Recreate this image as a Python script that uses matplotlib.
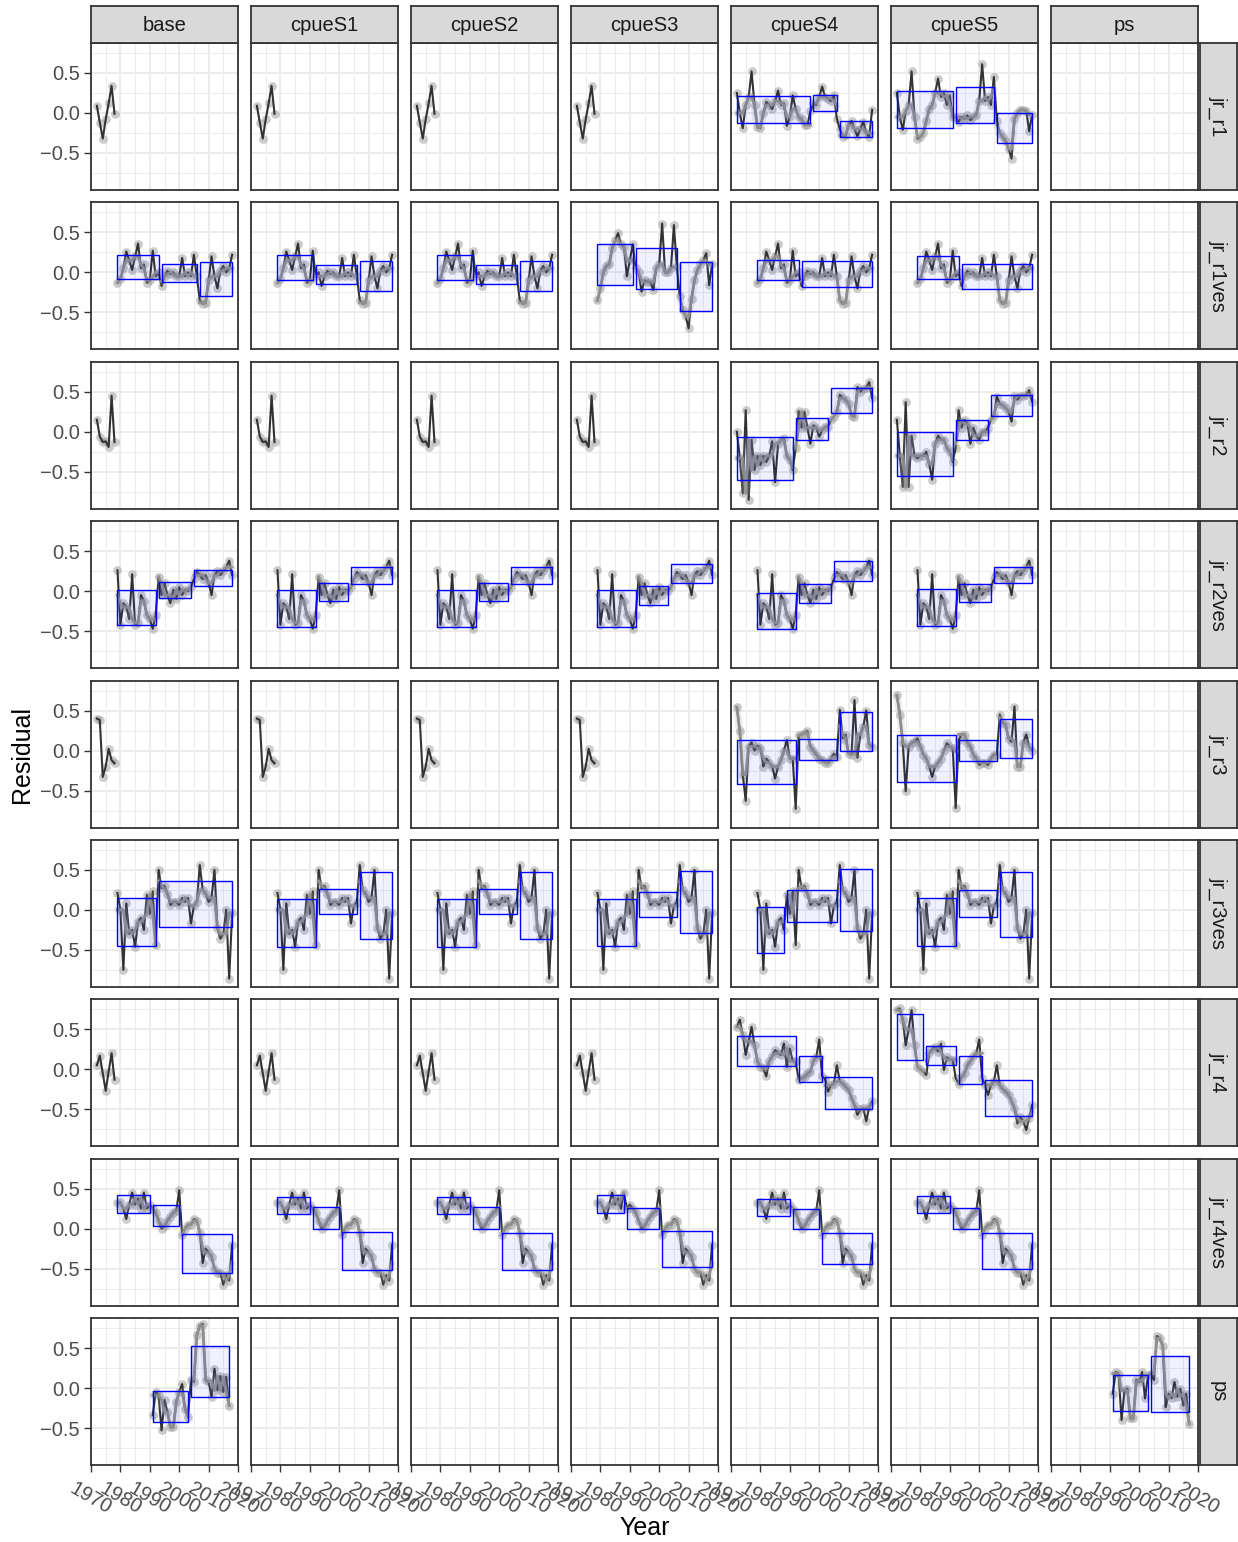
import numpy as np
import matplotlib
matplotlib.use("Agg")
import matplotlib.pyplot as plt
from matplotlib.patches import Rectangle
from matplotlib.ticker import FixedLocator, NullFormatter, FixedFormatter

plt.rcParams['font.family'] = ['Liberation Sans', 'DejaVu Sans']
plt.rcParams['axes.unicode_minus'] = True

# ---------------------------------------------------------------- facets
scenarios = ["base", "cpueS1", "cpueS2", "cpueS3", "cpueS4", "cpueS5", "ps"]
indices = ["jr_r1", "jr_r1ves", "jr_r2", "jr_r2ves", "jr_r3", "jr_r3ves",
           "jr_r4", "jr_r4ves", "ps"]

x_ticks = [1970, 1980, 1990, 2000, 2010, 2020]
x_minor = [1975, 1985, 1995, 2005, 2015]
y_ticks = [-0.5, 0.0, 0.5]
y_tick_labels = ["\u22120.5", "0.0", "0.5"]
y_minor = [-0.75, -0.25, 0.25, 0.75]

# ---------------------------------------------------------------- years
short_years = np.arange(1972, 1979)
long_years = np.arange(1972, 2019)
ves_years = np.arange(1979, 2019)
ps_years = np.arange(1991, 2018)

# ---------------------------------------------------------------- residuals
jr_r1_short = [0.09, -0.12, -0.32, -0.08, 0.12, 0.34, -0.01]
jr_r2_short = [0.15, -0.06, -0.13, -0.12, -0.19, 0.45, -0.13]
jr_r3_short = [0.40, 0.38, -0.33, -0.20, 0.02, -0.12, -0.16]
jr_r4_short = [0.05, 0.17, -0.05, -0.27, -0.03, 0.20, -0.13]

jr_r1_S4 = [0.25, 0.00, -0.19, 0.10, 0.20, 0.52, 0.10, -0.18, -0.19, 0.00,
            0.14, 0.10, 0.05, 0.15, 0.28, 0.10, 0.12, -0.16, -0.05, 0.22,
            0.05, -0.05, -0.08, -0.15, -0.15, 0.02, 0.12, 0.10, 0.20, 0.33,
            0.20, 0.18, 0.15, 0.22, -0.07, -0.20, -0.30, -0.28, -0.15, -0.10,
            -0.20, -0.29, -0.20, -0.11, -0.25, -0.30, 0.04]
jr_r1_S5 = [0.25, -0.05, -0.21, 0.02, 0.10, 0.52, -0.05, -0.32, -0.30, -0.25,
            -0.10, 0.05, 0.10, 0.25, 0.43, 0.20, 0.25, 0.10, 0.22, -0.05,
            -0.05, -0.11, -0.05, -0.07, -0.03, -0.09, -0.05, -0.02, 0.15, 0.61,
            0.15, 0.20, 0.10, 0.45, -0.10, -0.25, -0.30, -0.35, -0.45, -0.57,
            -0.07, 0.00, 0.04, 0.04, 0.03, -0.23, -0.02]
jr_r2_S4 = [0.00, -0.33, -0.77, 0.27, -0.85, -0.10, -0.48, -0.30, -0.42, -0.30,
            -0.38, -0.30, -0.12, -0.63, -0.15, -0.10, -0.08, -0.30, -0.35, -0.48,
            -0.20, 0.26, 0.05, 0.25, 0.05, -0.15, 0.08, 0.05, -0.06, 0.02,
            0.06, 0.06, 0.15, 0.19, 0.25, 0.46, 0.42, 0.40, 0.35, 0.20,
            0.19, 0.56, 0.50, 0.54, 0.55, 0.62, 0.42]
jr_r2_S5 = [0.15, -0.30, -0.69, 0.37, -0.69, -0.05, -0.30, -0.33, -0.30, -0.30,
            -0.25, -0.40, -0.60, -0.15, -0.05, -0.10, -0.10, -0.20, -0.25, -0.38,
            -0.20, 0.27, 0.05, 0.15, 0.10, -0.15, 0.05, -0.05, -0.10, 0.00,
            0.00, 0.05, 0.15, 0.20, 0.44, 0.35, 0.33, 0.30, 0.25, 0.125,
            0.45, 0.40, 0.45, 0.45, 0.46, 0.52, 0.375]
jr_r3_S4 = [0.54, 0.24, -0.30, -0.63, 0.05, 0.10, 0.00, 0.06, 0.03, -0.20,
            -0.10, -0.15, -0.20, -0.35, -0.20, -0.12, 0.00, 0.13, -0.10, -0.10,
            -0.73, 0.19, 0.20, 0.22, 0.24, 0.05, 0.00, -0.05, -0.10, -0.12,
            -0.15, -0.16, -0.10, -0.04, -0.08, 0.51, 0.15, 0.20, -0.04, -0.05,
            0.63, -0.09, 0.20, 0.30, 0.50, 0.07, 0.05]
jr_r3_S5 = [0.69, 0.45, 0.10, -0.51, 0.05, 0.10, 0.11, 0.15, 0.05, -0.05,
            -0.10, -0.20, -0.33, -0.20, -0.15, -0.10, 0.00, 0.09, 0.05, 0.03,
            -0.72, 0.13, 0.20, 0.20, 0.10, 0.05, -0.05, -0.10, -0.18, -0.15,
            -0.15, -0.18, -0.10, -0.05, -0.05, 0.45, 0.35, 0.32, 0.15, 0.11,
            0.55, -0.20, -0.20, 0.10, 0.20, 0.05, 0.00]
jr_r4_S4 = [0.53, 0.62, 0.43, 0.18, 0.35, 0.53, 0.30, 0.10, 0.03, 0.01,
            -0.09, 0.10, 0.16, 0.24, 0.20, 0.18, 0.32, 0.03, 0.26, 0.10,
            0.10, -0.13, -0.11, -0.10, -0.05, -0.03, 0.10, 0.15, 0.37, -0.09,
            -0.12, -0.28, -0.20, -0.18, 0.05, -0.15, -0.18, -0.22, -0.26, -0.36,
            -0.45, -0.57, -0.50, -0.49, -0.65, -0.47, -0.40]
jr_r4_S5 = [0.74, 0.76, 0.62, 0.30, 0.50, 0.74, 0.30, 0.03, 0.00, -0.03,
            -0.07, 0.20, 0.25, 0.28, 0.22, 0.32, -0.01, 0.15, 0.12, 0.12,
            -0.11, -0.18, -0.10, -0.05, 0.05, 0.10, 0.16, 0.20, 0.37, -0.11,
            -0.20, -0.32, -0.20, -0.15, 0.05, -0.20, -0.25, -0.28, -0.32, -0.40,
            -0.49, -0.68, -0.60, -0.65, -0.76, -0.61, -0.45]

jr_r1ves_main = [-0.13, -0.08, 0.05, 0.26, 0.15, 0.03, 0.20, 0.36, 0.05, 0.10,
                 -0.13, -0.10, 0.27, -0.05, 0.00, -0.17, -0.05, 0.02, -0.02, 0.00,
                 -0.05, -0.05, 0.18, -0.05, 0.00, -0.05, 0.22, -0.05, -0.35, -0.39,
                 -0.38, -0.10, 0.20, -0.05, -0.20, 0.02, 0.08, 0.00, 0.05, 0.22]
jr_r1ves_S3 = [-0.35, -0.20, 0.00, 0.08, 0.10, 0.30, 0.40, 0.49, 0.35, 0.32,
               -0.05, 0.15, 0.35, 0.05, 0.00, -0.24, -0.10, -0.12, -0.12, -0.22,
               0.05, 0.10, 0.61, 0.00, 0.00, 0.05, 0.59, 0.07, -0.30, -0.47,
               -0.55, -0.70, -0.33, -0.10, 0.03, 0.10, 0.15, 0.24, -0.16, 0.10]
jr_r2ves_main = [0.26, -0.42, -0.15, -0.20, -0.35, 0.21, -0.42, -0.40, -0.05, -0.12,
                 -0.30, -0.35, -0.47, -0.30, 0.18, -0.05, 0.10, -0.05, -0.15, 0.02,
                 -0.10, 0.05, -0.05, 0.02, 0.00, 0.05, 0.15, 0.24, 0.20, 0.15,
                 0.20, 0.10, -0.05, 0.20, 0.25, 0.20, 0.25, 0.30, 0.38, 0.20]
jr_r3ves_main = [0.21, 0.00, -0.75, 0.08, -0.30, -0.25, -0.46, -0.15, -0.10, -0.25,
                 0.19, -0.05, 0.23, -0.44, 0.50, 0.27, 0.30, 0.20, 0.06, 0.10,
                 0.10, 0.06, 0.15, 0.10, 0.15, -0.17, 0.05, 0.10, 0.56, 0.25,
                 0.20, 0.10, 0.15, 0.50, -0.23, -0.36, -0.30, 0.00, -0.86, -0.04]
jr_r4ves_main = [0.32, 0.33, 0.25, 0.12, 0.30, 0.45, 0.30, 0.38, 0.25, 0.45,
                 0.25, 0.30, 0.25, 0.20, 0.10, 0.00, 0.03, 0.10, 0.15, 0.20,
                 0.22, 0.48, -0.08, 0.00, 0.05, 0.05, 0.12, 0.10, -0.05, -0.43,
                 -0.25, -0.30, -0.35, -0.50, -0.55, -0.55, -0.70, -0.58, -0.65, -0.20]

ps_base = [-0.34, -0.05, -0.09, -0.53, -0.15, -0.30, -0.49, -0.49, -0.18, -0.05,
           0.05, -0.26, -0.36, 0.10, 0.08, 0.66, 0.78, 0.80, 0.10, 0.08,
           -0.11, 0.24, -0.03, 0.15, -0.05, 0.14, -0.22]
ps_ps = [-0.07, 0.20, 0.18, -0.40, -0.03, -0.01, -0.38, -0.38, 0.10, 0.075,
         0.20, -0.13, 0.16, 0.18, 0.10, 0.65, 0.62, 0.53, -0.24, -0.07,
         -0.13, 0.075, -0.11, -0.01, -0.22, -0.07, -0.45]

# ---------------------------------------------------------------- regime boxes
# (first year, last year, lower, upper)
jr_r1_boxes = {
    "cpueS4": [(1972, 1997, -0.13, 0.21), (1998, 2006, 0.02, 0.23), (2007, 2018, -0.30, -0.10)],
    "cpueS5": [(1972, 1991, -0.19, 0.28), (1992, 2005, -0.13, 0.33), (2006, 2018, -0.38, 0.00)],
}
jr_r1ves_boxes = {
    "base": [(1979, 1993, -0.08, 0.22), (1994, 2006, -0.125, 0.10), (2007, 2018, -0.29, 0.125)],
    "cpueS1": [(1979, 1991, -0.10, 0.22), (1992, 2006, -0.15, 0.09), (2007, 2018, -0.23, 0.14)],
    "cpueS2": [(1979, 1991, -0.10, 0.22), (1992, 2006, -0.15, 0.09), (2007, 2018, -0.23, 0.14)],
    "cpueS3": [(1979, 1991, -0.16, 0.35), (1992, 2006, -0.21, 0.30), (2007, 2018, -0.48, 0.125)],
    "cpueS4": [(1979, 1993, -0.10, 0.155), (1994, 2018, -0.18, 0.14)],
    "cpueS5": [(1979, 1993, -0.08, 0.21), (1994, 2018, -0.21, 0.11)],
}
jr_r2_boxes = {
    "cpueS4": [(1972, 1991, -0.60, -0.06), (1992, 2003, -0.10, 0.175), (2004, 2018, 0.24, 0.55)],
    "cpueS5": [(1972, 1991, -0.55, 0.00), (1992, 2003, -0.10, 0.15), (2004, 2018, 0.20, 0.46)],
}
jr_r2ves_boxes = {
    "base": [(1979, 1992, -0.425, 0.02), (1993, 2004, -0.08, 0.117), (2005, 2018, 0.06, 0.27)],
    "cpueS1": [(1979, 1992, -0.45, 0.01), (1993, 2003, -0.12, 0.10), (2004, 2018, 0.09, 0.30)],
    "cpueS2": [(1979, 1992, -0.45, 0.01), (1993, 2003, -0.12, 0.10), (2004, 2018, 0.09, 0.30)],
    "cpueS3": [(1979, 1992, -0.45, 0.02), (1993, 2003, -0.17, 0.06), (2004, 2018, 0.10, 0.34)],
    "cpueS4": [(1979, 1992, -0.47, -0.02), (1993, 2004, -0.15, 0.09), (2005, 2018, 0.125, 0.38)],
    "cpueS5": [(1979, 1992, -0.43, 0.025), (1993, 2004, -0.13, 0.09), (2005, 2018, 0.10, 0.30)],
}
jr_r3_boxes = {
    "cpueS4": [(1972, 1992, -0.42, 0.127), (1993, 2006, -0.12, 0.15), (2007, 2018, -0.01, 0.48)],
    "cpueS5": [(1972, 1992, -0.39, 0.20), (1993, 2006, -0.135, 0.127), (2007, 2018, -0.09, 0.40)],
}
jr_r3ves_boxes = {
    "base": [(1979, 1992, -0.45, 0.15), (1993, 2018, -0.22, 0.365)],
    "cpueS1": [(1979, 1992, -0.47, 0.13), (1993, 2006, -0.055, 0.26), (2007, 2018, -0.36, 0.47)],
    "cpueS2": [(1979, 1992, -0.47, 0.13), (1993, 2006, -0.055, 0.26), (2007, 2018, -0.36, 0.47)],
    "cpueS3": [(1979, 1992, -0.45, 0.13), (1993, 2006, -0.085, 0.22), (2007, 2018, -0.285, 0.485)],
    "cpueS4": [(1979, 1988, -0.54, 0.03), (1989, 2006, -0.155, 0.25), (2007, 2018, -0.26, 0.51)],
    "cpueS5": [(1979, 1992, -0.45, 0.145), (1993, 2006, -0.09, 0.25), (2007, 2018, -0.34, 0.47)],
}
jr_r4_boxes = {
    "cpueS4": [(1972, 1992, 0.04, 0.42), (1993, 2001, -0.16, 0.17), (2002, 2018, -0.50, -0.10)],
    "cpueS5": [(1972, 1981, 0.12, 0.69), (1982, 1992, 0.05, 0.29), (1993, 2001, -0.19, 0.17),
               (2002, 2018, -0.58, -0.13)],
}
jr_r4ves_boxes = {
    "base": [(1979, 1990, 0.19, 0.42), (1991, 2000, 0.03, 0.30), (2001, 2018, -0.55, -0.07)],
    "cpueS1": [(1979, 1990, 0.18, 0.40), (1991, 2000, 0.00, 0.27), (2001, 2018, -0.52, -0.04)],
    "cpueS2": [(1979, 1990, 0.18, 0.40), (1991, 2000, 0.00, 0.27), (2001, 2018, -0.52, -0.05)],
    "cpueS3": [(1979, 1988, 0.19, 0.42), (1989, 2000, 0.00, 0.26), (2001, 2018, -0.48, -0.03)],
    "cpueS4": [(1979, 1990, 0.16, 0.37), (1991, 2000, -0.01, 0.24), (2001, 2018, -0.44, -0.05)],
    "cpueS5": [(1979, 1990, 0.20, 0.41), (1991, 2000, 0.00, 0.26), (2001, 2018, -0.51, -0.06)],
}
ps_boxes = {
    "base": [(1991, 2003, -0.425, -0.04), (2004, 2017, -0.11, 0.52)],
    "ps": [(1991, 2003, -0.29, 0.16), (2004, 2017, -0.30, 0.40)],
}

# ---------------------------------------------------------------- panel contents
early = ["base", "cpueS1", "cpueS2", "cpueS3"]
panels = {}
for sc in early:
    panels[("jr_r1", sc)] = (short_years, jr_r1_short, [])
    panels[("jr_r2", sc)] = (short_years, jr_r2_short, [])
    panels[("jr_r3", sc)] = (short_years, jr_r3_short, [])
    panels[("jr_r4", sc)] = (short_years, jr_r4_short, [])
for idx, s4, s5, bx in [("jr_r1", jr_r1_S4, jr_r1_S5, jr_r1_boxes),
                        ("jr_r2", jr_r2_S4, jr_r2_S5, jr_r2_boxes),
                        ("jr_r3", jr_r3_S4, jr_r3_S5, jr_r3_boxes),
                        ("jr_r4", jr_r4_S4, jr_r4_S5, jr_r4_boxes)]:
    panels[(idx, "cpueS4")] = (long_years, s4, bx["cpueS4"])
    panels[(idx, "cpueS5")] = (long_years, s5, bx["cpueS5"])
for idx, series, bx in [("jr_r1ves", jr_r1ves_main, jr_r1ves_boxes),
                        ("jr_r2ves", jr_r2ves_main, jr_r2ves_boxes),
                        ("jr_r3ves", jr_r3ves_main, jr_r3ves_boxes),
                        ("jr_r4ves", jr_r4ves_main, jr_r4ves_boxes)]:
    for sc in scenarios[:6]:
        panels[(idx, sc)] = (ves_years, series, bx[sc])
panels[("jr_r1ves", "cpueS3")] = (ves_years, jr_r1ves_S3, jr_r1ves_boxes["cpueS3"])
panels[("ps", "base")] = (ps_years, ps_base, ps_boxes["base"])
panels[("ps", "ps")] = (ps_years, ps_ps, ps_boxes["ps"])


def smooth(v):
    """Running median of three with Tukey's end-point rule."""
    v = np.asarray(v, float)
    n = len(v)
    if n < 3:
        return v.copy()
    m = v.copy()
    for i in range(1, n - 1):
        m[i] = np.median(v[i - 1:i + 2])
    m[0] = np.median([v[0], m[1], 3 * m[1] - 2 * m[2]])
    m[-1] = np.median([v[-1], m[-2], 3 * m[-2] - 2 * m[-3]])
    return m


def draw_panel(ax, years, resid, boxes):
    years = np.asarray(years, float)
    resid = np.asarray(resid, float)
    ax.scatter(years, resid, s=40, color='#9a9a9a', alpha=0.5, lw=0, zorder=3)
    ax.plot(years, resid, color='#333333', lw=1.5, zorder=4)
    for (y0, y1, lo, hi) in boxes:
        sel = (years >= y0) & (years <= y1)
        sm = smooth(resid[sel])
        ax.plot(years[sel], sm, color='#b4b4b4', lw=5.5, alpha=0.22, zorder=5,
                solid_capstyle='round')
        ax.plot(years[sel], sm, color='#929292', lw=2.1, alpha=0.95, zorder=6)
        ax.add_patch(Rectangle((y0, lo), y1 - y0, hi - lo, facecolor=(0.0, 0.0, 1.0, 0.06),
                               edgecolor='#0000FF', lw=1.0, zorder=7))


# ---------------------------------------------------------------- layout
W, H = 1238, 1542
fig = plt.figure(figsize=(W / 100, H / 100), dpi=100)
fig.patch.set_facecolor('white')


def frac(x0, y0, w, h):
    return [x0 / W, 1 - (y0 + h) / H, w / W, h / H]


PL, PW, CS = 91, 147, 160
PT, PH, RS = 43, 147, 159.375
FS = 14.5

for r, idx in enumerate(indices):
    for c, sc in enumerate(scenarios):
        ax = fig.add_axes(frac(PL + CS * c, PT + RS * r, PW, PH))
        ax.set_xlim(1970, 2020)
        ax.set_ylim(-0.9625, 0.875)
        ax.xaxis.set_major_locator(FixedLocator(x_ticks))
        ax.xaxis.set_minor_locator(FixedLocator(x_minor))
        ax.yaxis.set_major_locator(FixedLocator(y_ticks))
        ax.yaxis.set_minor_locator(FixedLocator(y_minor))
        ax.grid(which='major', color='#EBEBEB', lw=1.4, zorder=0)
        ax.grid(which='minor', color='#EBEBEB', lw=0.7, zorder=0)
        ax.set_axisbelow(True)
        for sp in ax.spines.values():
            sp.set_color('#333333')
            sp.set_linewidth(1.3)
            sp.set_zorder(10)
        ax.tick_params(which='minor', length=0)
        ax.tick_params(which='major', length=5, width=1.0, color='#333333',
                       labelsize=FS, labelcolor='#4D4D4D', pad=3)
        if c == 0:
            ax.yaxis.set_major_formatter(FixedFormatter(y_tick_labels))
        else:
            ax.yaxis.set_major_formatter(NullFormatter())
            ax.tick_params(axis='y', which='major', length=0)
        if r == len(indices) - 1:
            ax.set_xticklabels([str(t) for t in x_ticks], rotation=-30,
                               ha='center', va='top')
            ax.tick_params(axis='x', pad=5)
        else:
            ax.xaxis.set_major_formatter(NullFormatter())
            ax.tick_params(axis='x', which='major', length=0)
        if (idx, sc) in panels:
            yrs, res, bxs = panels[(idx, sc)]
            draw_panel(ax, yrs, res, bxs)

        # top strips
        if r == 0:
            sax = fig.add_axes(frac(PL + CS * c, 6, PW, 37))
            sax.set_xticks([]); sax.set_yticks([])
            sax.set_facecolor('#D9D9D9')
            for sp in sax.spines.values():
                sp.set_color('#333333'); sp.set_linewidth(1.3)
            sax.text(0.5, 0.47, sc, ha='center', va='center', fontsize=FS,
                     color='#1A1A1A', transform=sax.transAxes)
    # right strips
    rax = fig.add_axes(frac(1200, PT + RS * r, 37, PH))
    rax.set_xticks([]); rax.set_yticks([])
    rax.set_facecolor('#D9D9D9')
    for sp in rax.spines.values():
        sp.set_color('#333333'); sp.set_linewidth(1.3)
    rax.text(0.5, 0.5, idx, ha='center', va='center', rotation=-90, fontsize=FS,
             color='#1A1A1A', transform=rax.transAxes)

fig.text(22 / W, 1 - 754 / H, "Residual", rotation=90, ha='center', va='center',
         fontsize=18, color='black')
fig.text(644.5 / W, 1 - 1528 / H, "Year", ha='center', va='center',
         fontsize=18, color='black')

fig.savefig("out.png", dpi=100, facecolor='white')
